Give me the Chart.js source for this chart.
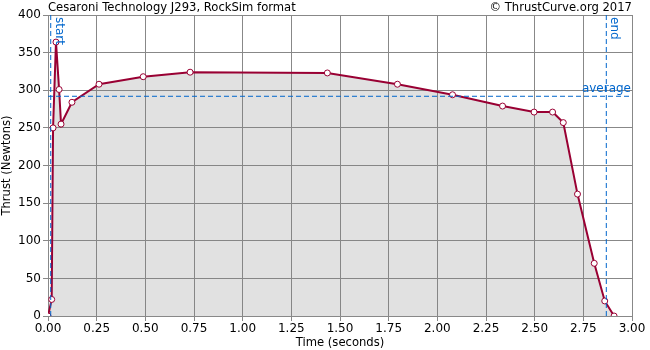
<!DOCTYPE html>
<html lang="en">
<head>
    <meta charset="UTF-8">
    <title>Cesaroni Technology J293</title>
    <style>
        body {
            margin: 0;
            padding: 0;
            background-color: #fff;
        }
    </style>
</head>
<body>
    <canvas id="thrust-chart" width="650" height="350"></canvas>

    <script src="https://cdn.jsdelivr.net/npm/chart.js"></script>
    <script>
        // Datos
        const times = [0, 0.019, 0.026, 0.041, 0.057, 0.067, 0.123, 0.262, 0.489, 0.730, 1.435, 1.795, 2.078, 2.335, 2.497, 2.592, 2.647, 2.720, 2.806, 2.860, 2.908];
        const thrust = [0, 22, 250, 364, 301, 255, 284, 308, 318, 324, 323, 308, 294, 279, 271, 271, 257, 162, 70, 20, 0];
        const startTime = 0.014;
        const endTime = 2.868;
        const averageThrust = 292;
        const xTicks = [0, 0.25, 0.5, 0.75, 1, 1.25, 1.5, 1.75, 2, 2.25, 2.5, 2.75, 3];

        const FONT = 'DejaVu Sans';
        const BLUE = '#0066cc';
        const RED = '#990033';

        // Textos de encabezado y etiquetas de las lineas de referencia
        const labelsPlugin = {
            id: 'labels',
            afterDraw(chart) {
                const ctx = chart.ctx;
                const area = chart.chartArea;
                const x = chart.scales.x;
                const y = chart.scales.y;
                ctx.save();
                ctx.font = '11.6px ' + FONT;
                ctx.fillStyle = '#000';
                ctx.textBaseline = 'middle';
                ctx.textAlign = 'left';
                ctx.fillText('Cesaroni Technology J293, RockSim format', area.left, 8);
                ctx.textAlign = 'right';
                ctx.fillText('\u00a9 ThrustCurve.org 2017', area.right, 8);

                ctx.font = '12px ' + FONT;
                ctx.fillStyle = BLUE;
                ctx.textAlign = 'right';
                ctx.textBaseline = 'bottom';
                ctx.fillText('average', area.right - 1, y.getPixelForValue(averageThrust) - 1);

                [['start', startTime], ['end', endTime]].forEach(function (item) {
                    ctx.save();
                    ctx.translate(x.getPixelForValue(item[1]) + 2, area.top + 2);
                    ctx.rotate(Math.PI / 2);
                    ctx.textAlign = 'left';
                    ctx.textBaseline = 'bottom';
                    ctx.fillText(item[0], 0, 0);
                    ctx.restore();
                });
                ctx.restore();
            }
        };

        const dashed = {
            borderColor: BLUE,
            borderWidth: 1,
            borderDash: [5, 3],
            pointRadius: 0,
            fill: false
        };

        new Chart(document.getElementById('thrust-chart'), {
            type: 'line',
            data: {
                datasets: [
                    Object.assign({ data: [{ x: startTime, y: 0 }, { x: startTime, y: 400 }] }, dashed),
                    Object.assign({ data: [{ x: endTime, y: 0 }, { x: endTime, y: 400 }] }, dashed),
                    Object.assign({ data: [{ x: 0, y: averageThrust }, { x: 3, y: averageThrust }] }, dashed),
                    {
                        data: times.map(function (t, i) { return { x: t, y: thrust[i] }; }),
                        borderColor: RED,
                        borderWidth: 2,
                        backgroundColor: 'rgba(128, 128, 128, 0.24)',
                        fill: 'origin',
                        tension: 0,
                        pointRadius: 3,
                        pointBackgroundColor: '#fff',
                        pointBorderColor: RED,
                        pointBorderWidth: 1
                    }
                ]
            },
            options: {
                responsive: false,
                animation: false,
                layout: { padding: { left: 0, right: 18, top: 15, bottom: 0 } },
                plugins: {
                    legend: { display: false },
                    tooltip: { enabled: false }
                },
                scales: {
                    x: {
                        type: 'linear',
                        min: 0,
                        max: 3,
                        afterBuildTicks(scale) {
                            scale.ticks = xTicks.map(function (v) { return { value: v }; });
                        },
                        afterFit(scale) { scale.height = 34; },
                        ticks: {
                            autoSkip: false,
                            maxRotation: 0,
                            padding: 1,
                            color: '#000',
                            font: { family: FONT, size: 12 },
                            callback: function (v) { return v.toFixed(2); }
                        },
                        grid: { color: '#888', tickLength: 5, tickColor: '#888' },
                        border: { color: '#888' },
                        title: {
                            display: true,
                            text: 'Time (seconds)',
                            color: '#000',
                            padding: 0,
                            font: { family: FONT, size: 11.6 }
                        }
                    },
                    y: {
                        min: 0,
                        max: 400,
                        afterFit(scale) { scale.width = 48; },
                        ticks: {
                            stepSize: 50,
                            padding: 2,
                            color: '#000',
                            font: { family: FONT, size: 12 }
                        },
                        grid: { color: '#888', tickLength: 5, tickColor: '#888' },
                        border: { color: '#888' },
                        title: {
                            display: true,
                            text: 'Thrust (Newtons)',
                            color: '#000',
                            padding: 0,
                            font: { family: FONT, size: 11.6 }
                        }
                    }
                }
            },
            plugins: [labelsPlugin]
        });
    </script>
</body>
</html>
